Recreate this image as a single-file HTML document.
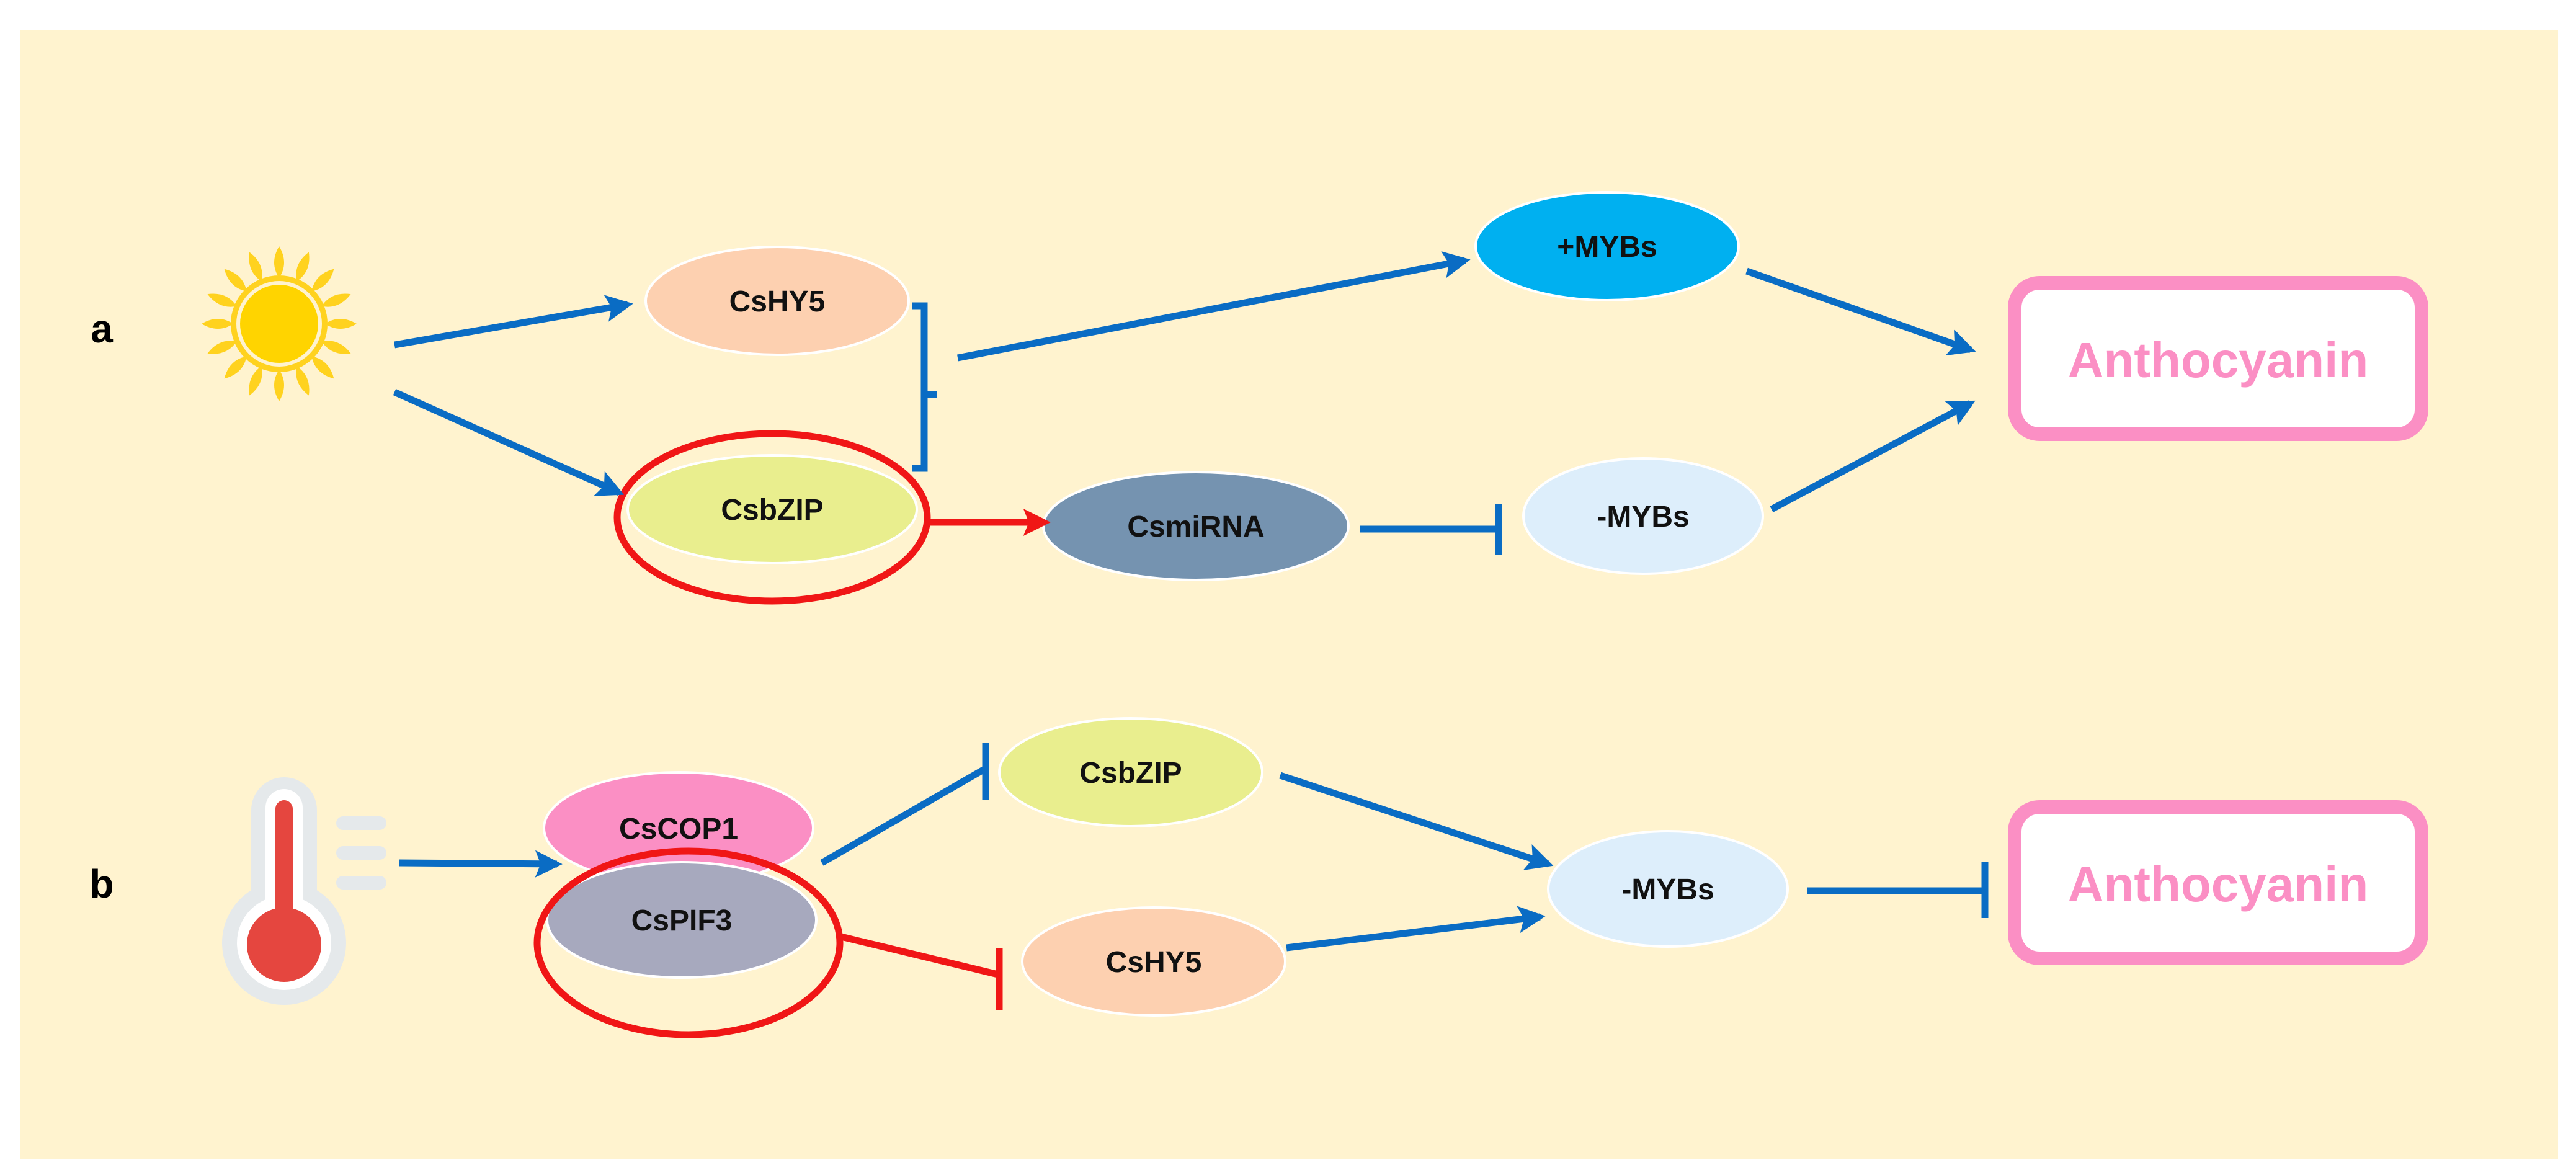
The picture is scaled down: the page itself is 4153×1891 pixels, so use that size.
<!DOCTYPE html>
<html><head><style>html,body{margin:0;padding:0;background:#fff}svg{display:block}</style></head>
<body>
<svg width="4153" height="1891" viewBox="0 0 4153 1891" xmlns="http://www.w3.org/2000/svg">
<defs>
<marker id="ab" markerWidth="4" markerHeight="4" refX="3.2" refY="2" orient="auto" markerUnits="strokeWidth"><path d="M0,0 L4,2 L0,4 L0.8,2 z" fill="#0A6CC4"/></marker>
<marker id="ar" markerWidth="4" markerHeight="4" refX="3.2" refY="2" orient="auto" markerUnits="strokeWidth"><path d="M0,0 L4,2 L0,4 L0.8,2 z" fill="#F01616"/></marker>
</defs>
<rect x="32" y="48" width="4092" height="1820" fill="#FFF3CF"/>
<g font-family="Liberation Sans, sans-serif" font-weight="bold" text-anchor="middle">
<text x="164" y="552" font-size="64">a</text>
<text x="164" y="1447" font-size="64">b</text>
</g>
<!-- sun -->
<g transform="translate(450,522)">
<g fill="#FFD21F">
<path d="M0,-125 Q16,-98 0,-74 Q-16,-98 0,-125z" transform="rotate(0)"/>
<path d="M0,-125 Q16,-98 0,-74 Q-16,-98 0,-125z" transform="rotate(22.5)"/>
<path d="M0,-125 Q16,-98 0,-74 Q-16,-98 0,-125z" transform="rotate(45)"/>
<path d="M0,-125 Q16,-98 0,-74 Q-16,-98 0,-125z" transform="rotate(67.5)"/>
<path d="M0,-125 Q16,-98 0,-74 Q-16,-98 0,-125z" transform="rotate(90)"/>
<path d="M0,-125 Q16,-98 0,-74 Q-16,-98 0,-125z" transform="rotate(112.5)"/>
<path d="M0,-125 Q16,-98 0,-74 Q-16,-98 0,-125z" transform="rotate(135)"/>
<path d="M0,-125 Q16,-98 0,-74 Q-16,-98 0,-125z" transform="rotate(157.5)"/>
<path d="M0,-125 Q16,-98 0,-74 Q-16,-98 0,-125z" transform="rotate(180)"/>
<path d="M0,-125 Q16,-98 0,-74 Q-16,-98 0,-125z" transform="rotate(202.5)"/>
<path d="M0,-125 Q16,-98 0,-74 Q-16,-98 0,-125z" transform="rotate(225)"/>
<path d="M0,-125 Q16,-98 0,-74 Q-16,-98 0,-125z" transform="rotate(247.5)"/>
<path d="M0,-125 Q16,-98 0,-74 Q-16,-98 0,-125z" transform="rotate(270)"/>
<path d="M0,-125 Q16,-98 0,-74 Q-16,-98 0,-125z" transform="rotate(292.5)"/>
<path d="M0,-125 Q16,-98 0,-74 Q-16,-98 0,-125z" transform="rotate(315)"/>
<path d="M0,-125 Q16,-98 0,-74 Q-16,-98 0,-125z" transform="rotate(337.5)"/>
</g>
<circle r="78" fill="#FFD21F"/>
<circle r="66" fill="#FFD400" stroke="#FFF3CF" stroke-width="6"/>
</g>
<!-- thermometer -->
<g>
<rect x="405" y="1253" width="106" height="260" rx="53" fill="#E5E9EB"/>
<circle cx="458" cy="1520" r="100" fill="#E5E9EB"/>
<rect x="428" y="1272" width="60" height="240" rx="30" fill="#fff"/>
<circle cx="458" cy="1520" r="76" fill="#fff"/>
<rect x="444" y="1290" width="28" height="220" rx="14" fill="#E5463F"/>
<circle cx="458" cy="1523" r="60" fill="#E5463F"/>
<g stroke="#E5E9EB" stroke-width="22" stroke-linecap="round">
<line x1="553" y1="1327" x2="612" y2="1327"/>
<line x1="553" y1="1375" x2="612" y2="1375"/>
<line x1="553" y1="1423" x2="612" y2="1423"/>
</g>
</g>
<!-- ellipses -->
<g stroke="#fff" stroke-width="4">
<ellipse cx="1253" cy="485" rx="212" ry="87" fill="#FDD0B0"/>
<ellipse cx="1245" cy="821" rx="233" ry="87" fill="#E9EE8E"/>
<ellipse cx="1928" cy="848" rx="246" ry="87" fill="#7593B0"/>
<ellipse cx="2591" cy="397" rx="212" ry="87" fill="#00B0F0"/>
<ellipse cx="2649" cy="832" rx="193" ry="93" fill="#DDEEFB"/>
<ellipse cx="1094" cy="1335" rx="217" ry="90" fill="#FB8FC4"/>
<ellipse cx="1099" cy="1483" rx="217" ry="93" fill="#A7A9BE"/>
<ellipse cx="1823" cy="1245" rx="212" ry="87" fill="#E9EE8E"/>
<ellipse cx="1860" cy="1550" rx="212" ry="87" fill="#FDD0B0"/>
<ellipse cx="2689" cy="1433" rx="193" ry="93" fill="#DDEEFB"/>
</g>
<ellipse cx="1245" cy="834" rx="250" ry="135" fill="none" stroke="#F01616" stroke-width="11"/>
<ellipse cx="1110" cy="1520" rx="244" ry="148" fill="none" stroke="#F01616" stroke-width="11"/>
<!-- boxes -->
<rect x="3248" y="456" width="656" height="244" rx="40" fill="#fff" stroke="#FB8FC4" stroke-width="22"/>
<rect x="3248" y="1301" width="656" height="244" rx="40" fill="#fff" stroke="#FB8FC4" stroke-width="22"/>
<g font-family="Liberation Sans, sans-serif" font-weight="bold" text-anchor="middle" font-size="48" fill="#111">
<text x="1253" y="502">CsHY5</text>
<text x="1245" y="838">CsbZIP</text>
<text x="1928" y="865">CsmiRNA</text>
<text x="2591" y="414">+MYBs</text>
<text x="2649" y="849">-MYBs</text>
<text x="1094" y="1352">CsCOP1</text>
<text x="1099" y="1500">CsPIF3</text>
<text x="1823" y="1262">CsbZIP</text>
<text x="1860" y="1567">CsHY5</text>
<text x="2689" y="1450">-MYBs</text>
<text x="3576" y="608" font-size="80" fill="#FB8FC4">Anthocyanin</text>
<text x="3576" y="1453" font-size="80" fill="#FB8FC4">Anthocyanin</text>
</g>
<!-- connectors -->
<g stroke="#0A6CC4" stroke-width="11" fill="none">
<line x1="636" y1="556" x2="1012" y2="491" marker-end="url(#ab)"/>
<line x1="636" y1="632" x2="998" y2="794" marker-end="url(#ab)"/>
<path d="M1470,493 L1490,493 L1490,755 L1470,755 M1490,636 L1510,636"/>
<line x1="1544" y1="577" x2="2362" y2="420" marker-end="url(#ab)"/>
<line x1="2816" y1="437" x2="3177" y2="564" marker-end="url(#ab)"/>
<line x1="2856" y1="821" x2="3177" y2="650" marker-end="url(#ab)"/>
<line x1="2193" y1="853" x2="2416" y2="853"/>
<line x1="2416" y1="813" x2="2416" y2="895"/>
<line x1="644" y1="1391" x2="898" y2="1393" marker-end="url(#ab)"/>
<line x1="1325" y1="1391" x2="1587" y2="1240"/>
<line x1="1589" y1="1197" x2="1589" y2="1290"/>
<line x1="2064" y1="1250" x2="2496" y2="1393" marker-end="url(#ab)"/>
<line x1="2074" y1="1528" x2="2483" y2="1478" marker-end="url(#ab)"/>
<line x1="2914" y1="1436" x2="3200" y2="1436"/>
<line x1="3200" y1="1390" x2="3200" y2="1480"/>
</g>
<g stroke="#F01616" stroke-width="11" fill="none">
<line x1="1497" y1="842" x2="1685" y2="842" marker-end="url(#ar)"/>
<line x1="1356" y1="1510" x2="1609" y2="1571"/>
<line x1="1611" y1="1529" x2="1611" y2="1628"/>
</g>
</svg>
</body></html>
